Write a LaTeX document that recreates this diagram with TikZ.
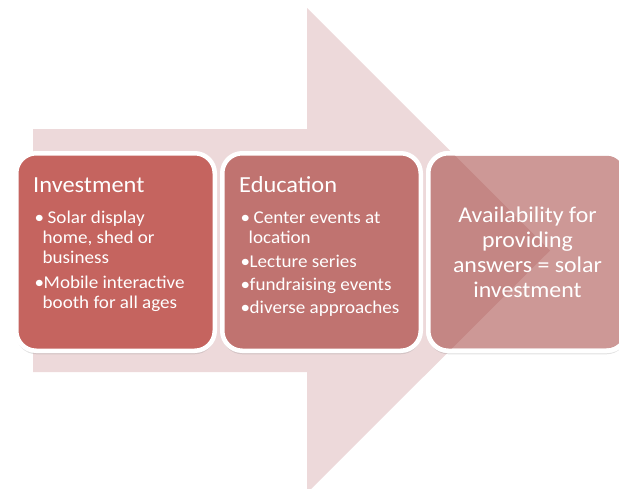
\documentclass[tikz,border=0pt]{standalone}
\usepackage{fontspec}
\setmainfont{Carlito}[FakeStretch=1.06]
\usetikzlibrary{positioning,shadows}
\definecolor{arrowpink}{HTML}{EDD9DA}
\definecolor{investfill}{HTML}{C5645F}
\definecolor{edufill}{HTML}{C07370}
\definecolor{availfill}{HTML}{CD9896}
\definecolor{availdark}{HTML}{C48684}
\newcommand\bulletmark{\makebox[9pt][l]{\textbullet}}
\newcommand\hangtext{\hspace*{8pt}}

\begin{document}
\begin{tikzpicture}[
  x=1pt,y=-1pt,
  stage/.style={draw=white,line width=4.5pt,rounded corners=20pt,outer sep=0pt,minimum width=198.5pt,minimum height=197.5pt,drop shadow={shadow xshift=0pt,shadow yshift=-3.5pt,opacity=.22}},
  title/.style={text=white,anchor=base west,inner sep=0pt,font=\fontsize{23}{25}\selectfont},
  items/.style={text=white,anchor=base west,inner sep=0pt,align=left,font=\fontsize{18}{20}\selectfont},
  answer/.style={text=white,inner sep=0pt,align=center,font=\fontsize{22.5}{25}\selectfont}
]
\useasboundingbox (0,0) rectangle (619,488);
% big arrow behind the stages
\fill[arrowpink] (33,129) -- (307,129) -- (307,8) -- (550,250.5) -- (307,493) -- (307,372) -- (33,372) -- cycle;
\node[stage,fill=investfill] (invest) at (115.5,252) {};
\node[stage,fill=edufill,right=7.5pt of invest] (edu) {};
\node[stage,fill=availfill,right=7.5pt of edu] (avail) {};
% arrow head seen through the last stage
\begin{scope}
\clip[rounded corners=20pt] (avail.south west) rectangle (avail.north east);
\fill[availdark] (307,8) -- (550,250.5) -- (307,493) -- cycle;
\end{scope}
\draw[white,line width=4.5pt,rounded corners=20pt] (avail.south west) rectangle (avail.north east);
% texts (items are set on the baseline of their last line)
\node[title] (investtitle) at ([shift={(16.75,38.75)}]invest.north west) {Investment};
\node[items] (investitems) at ([shift={(18.25,154.75)}]invest.north west) {\bulletmark\hspace{4pt}Solar display\\ \hangtext home, shed or\\ \hangtext business\\[5pt] \bulletmark Mobile interactive\\ \hangtext booth for all ages};
\node[title] (edutitle) at ([shift={(16.75,38.75)}]edu.north west) {Education};
\node[items] (eduitems) at ([shift={(18.25,159.75)}]edu.north west) {\bulletmark\hspace{4pt}Center events at\\ \hangtext location\\[3.5pt] \bulletmark Lecture series\\[3pt] \bulletmark fundraising events\\[3pt] \bulletmark diverse approaches};
\node[answer] (availtext) at (avail.center) {Availability for\\providing\\answers = solar\\investment};
\end{tikzpicture}
\end{document}
